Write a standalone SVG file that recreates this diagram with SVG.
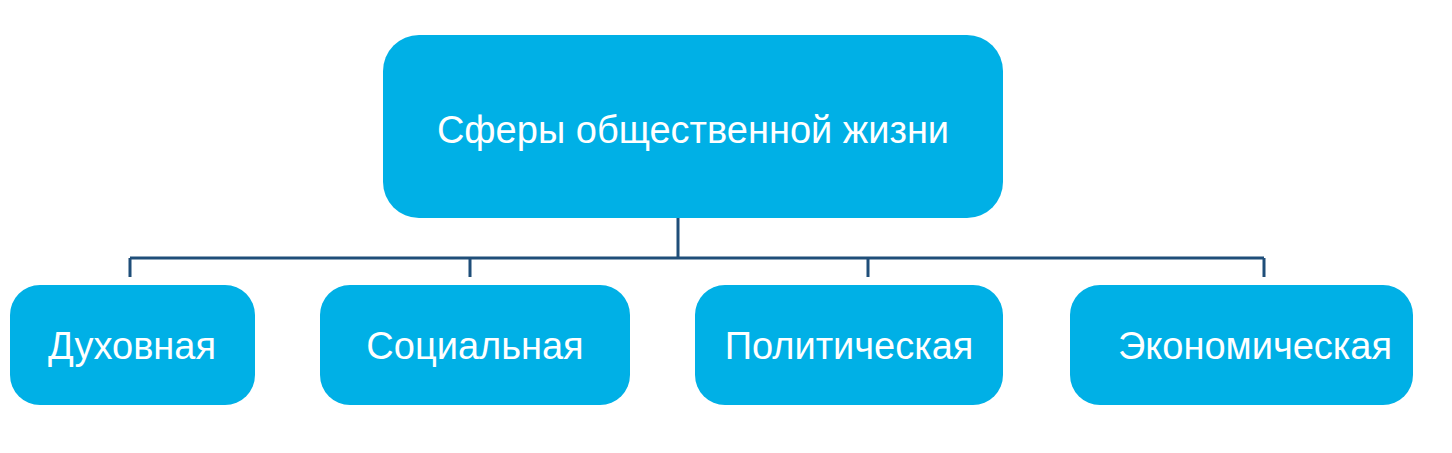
<svg xmlns="http://www.w3.org/2000/svg" width="1452" height="453" viewBox="0 0 1452 453">
<style>
.box{fill:#00B0E6}
.t{fill:#fff;font-family:"Liberation Sans",Arial,sans-serif;font-size:38px;text-anchor:middle;dominant-baseline:central}
.c{fill:none;stroke:#1F4E79;stroke-width:3}
</style>
<rect width="1452" height="453" fill="#fff"/>
<g id="connectors">
<path class="c" d="M678 218V258M130 258H1264M130 258V277M470 258V277M868 258V277M1264 258V277"/>
</g>
<g id="root"><rect class="box" x="383" y="35" width="620" height="183" rx="36"/><text class="t" x="693" y="130">Сферы общественной жизни</text></g>
<g id="n1"><rect class="box" x="10" y="285" width="245" height="120" rx="30"/><text class="t" x="132" y="346">Духовная</text></g>
<g id="n2"><rect class="box" x="320" y="285" width="310" height="120" rx="30"/><text class="t" x="475" y="346">Социальная</text></g>
<g id="n3"><rect class="box" x="695" y="285" width="308" height="120" rx="30"/><text class="t" x="849" y="346">Политическая</text></g>
<g id="n4"><rect class="box" x="1070" y="285" width="343" height="120" rx="30"/><text class="t" x="1255" y="346">Экономическая</text></g>
</svg>
